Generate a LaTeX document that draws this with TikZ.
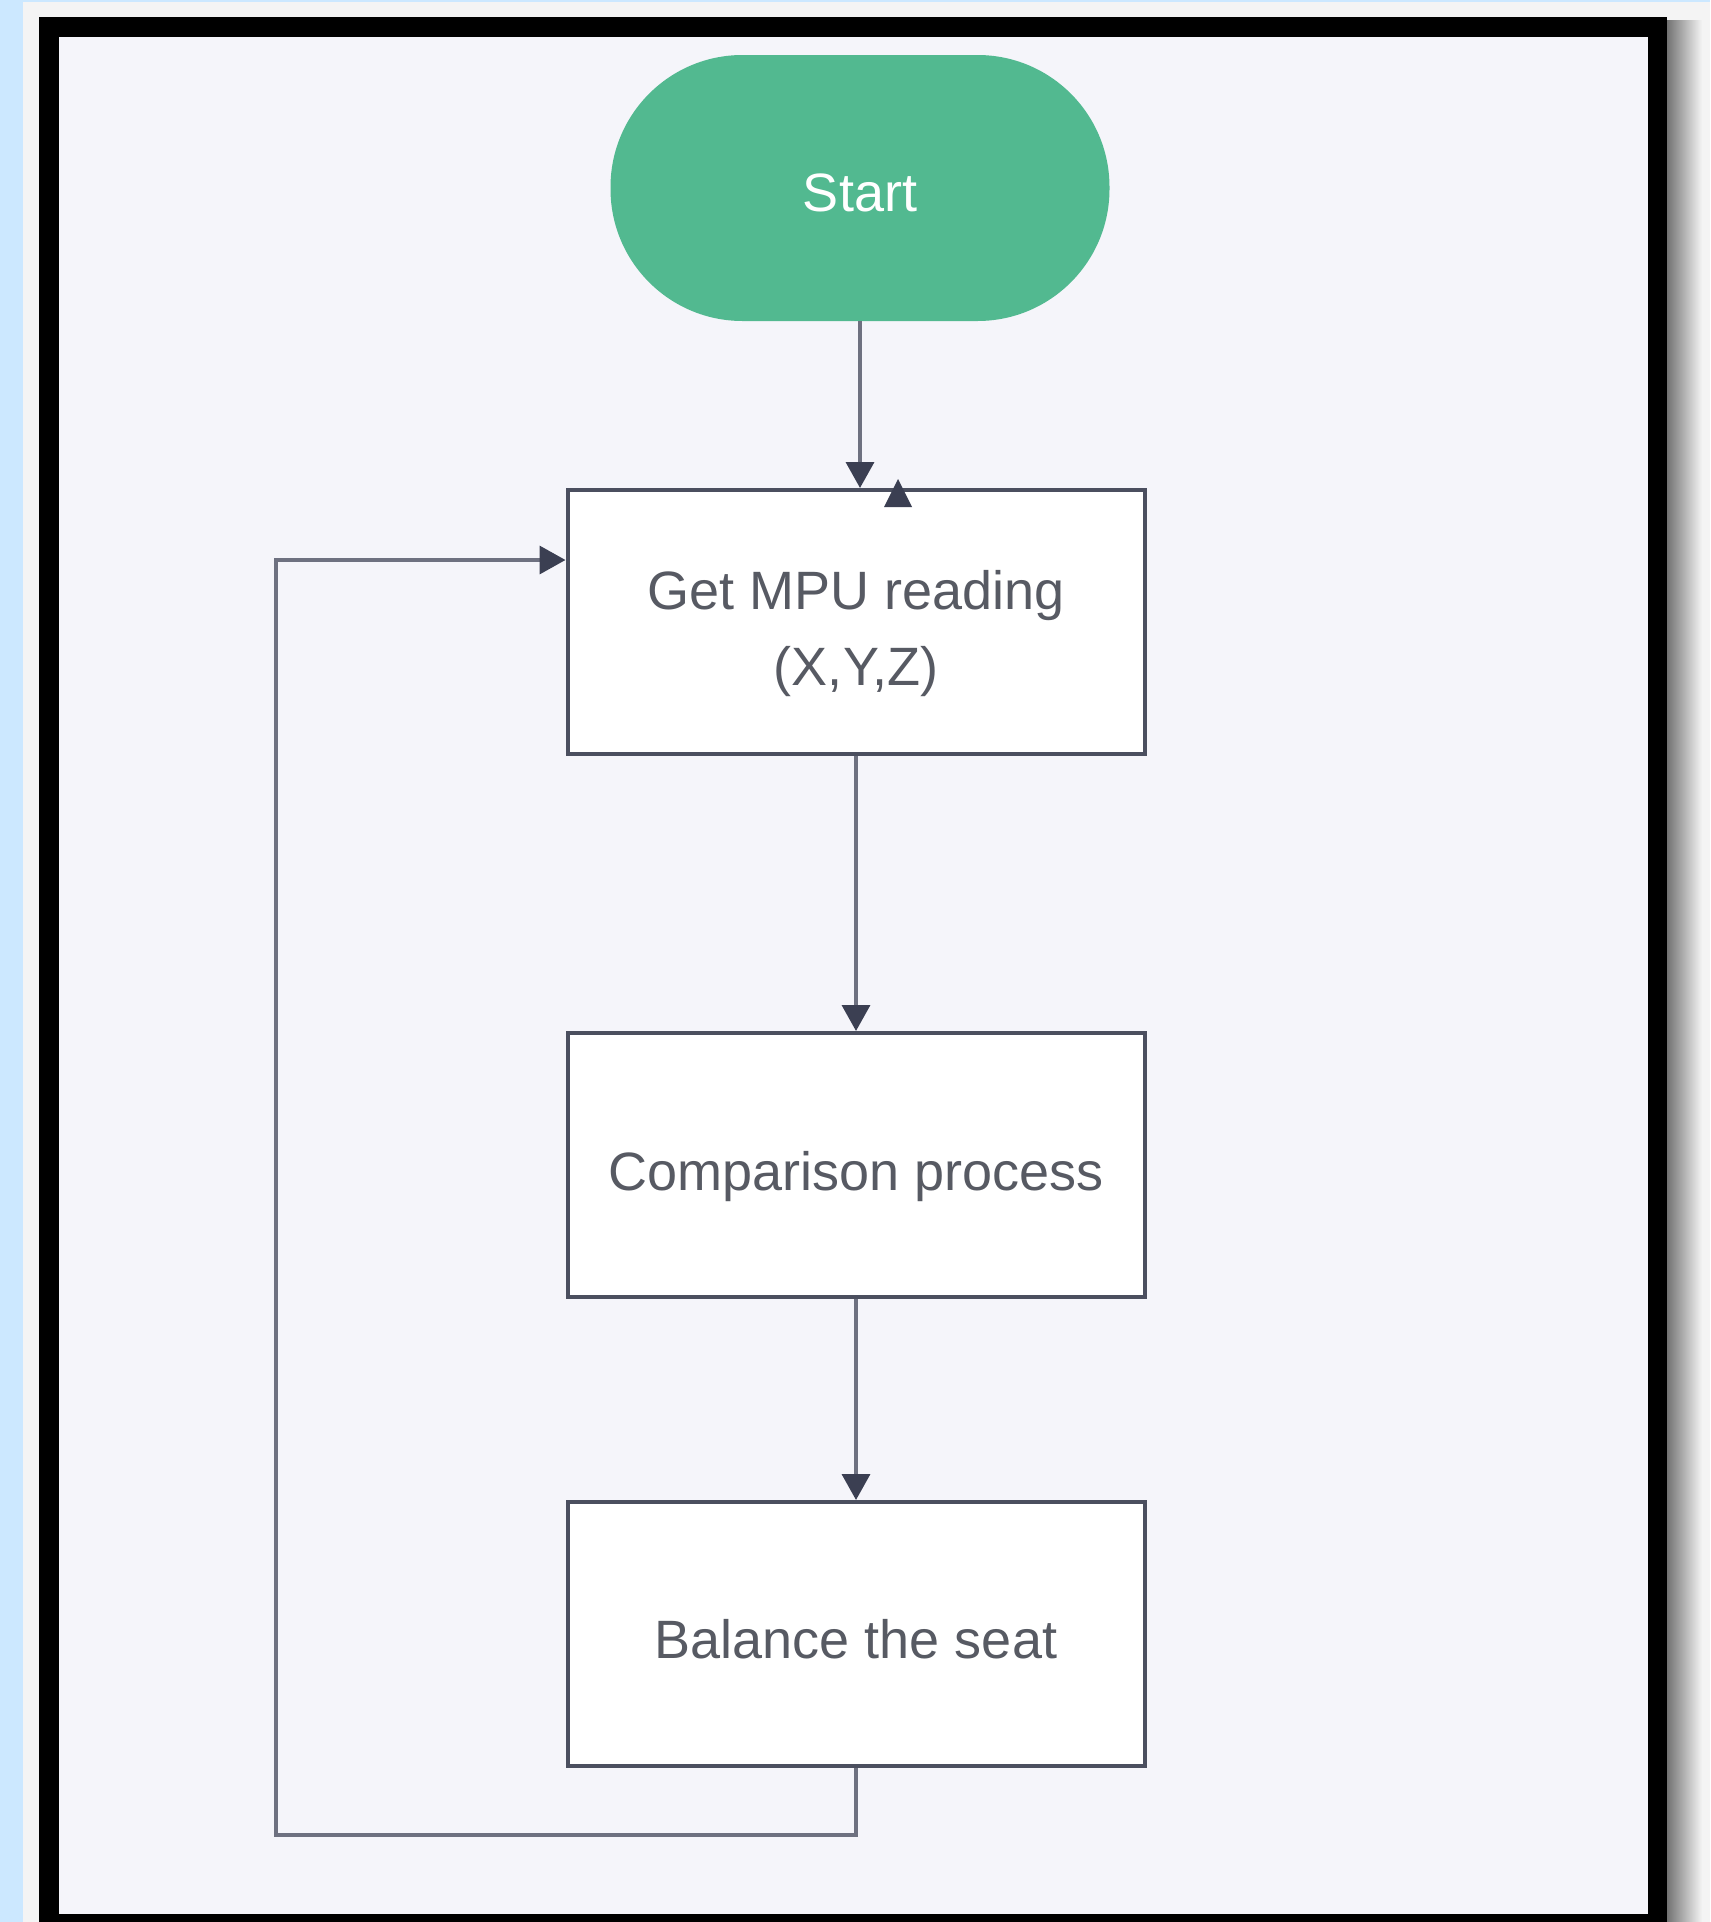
\documentclass[tikz,border=0pt]{standalone}
\usepackage{fontspec}
\setmainfont{Liberation Sans}
\usetikzlibrary{arrows.meta,calc}
\definecolor{bluebg}{HTML}{CCE8FF}
\definecolor{paper}{HTML}{F4F4F4}
\definecolor{innerbg}{HTML}{F5F5FA}
\definecolor{boxline}{HTML}{4B4F5F}
\definecolor{connline}{HTML}{6E7180}
\definecolor{tipcol}{HTML}{3B3F52}
\definecolor{startgreen}{HTML}{52B990}
\definecolor{txt}{HTML}{575A63}
\tikzset{
  procbox/.style={draw=boxline, line width=2pt, fill=white, minimum width=288.5pt, minimum height=132pt,
    align=center, text=txt, font=\fontsize{27}{38}\selectfont, inner sep=0pt},
  startnode/.style={fill=startgreen, minimum width=249.5pt, minimum height=133pt, rounded corners=66pt,
    text=white, font=\fontsize{27}{32}\selectfont, inner sep=0pt},
  conn/.style={draw=connline, line width=1.8pt, -{Triangle[width=14pt,length=13pt,color=tipcol]}}
}
\newcommand{\lowtext}{\rule{0pt}{31pt}}
\begin{document}
\begin{tikzpicture}[x=0.5pt,y=-0.5pt]
\useasboundingbox (0,0) rectangle (1710,1922);
% background and frame
\fill[bluebg] (0,0) rectangle (1710,1922);
\fill[paper] (23,2) rectangle (1710,1922);
\shade[left color=black!55, right color=paper] (1667,20) rectangle (1702,1922);
\fill[black] (39,17) rectangle (1667,1922);
\fill[innerbg] (59,37) rectangle (1648,1914);
% nodes
\node[startnode] (start) at (860,188) {\rule{0pt}{24pt}Start};
\node[procbox] (b1) at (856,622) {\lowtext Get MPU reading\\(X,Y,Z)};
\node[procbox] (b2) at (856,1165) {\lowtext Comparison process};
\node[procbox] (b3) at (856,1634) {\rule{0pt}{25pt}Balance the seat};
% connectors
\draw[conn] (start.south) -- (start.south |- b1.north);
\draw[conn] (b1.south) -- (b2.north);
\draw[conn] (b2.south) -- (b3.north);
\coordinate (lb) at (276,1835);
\coordinate (lt) at (276,560);
\draw[conn] (b3.south) |- (lb) -- (lt) -- (lt -| b1.west);
% stray up-pointing arrowhead on top of box 1
\coordinate (sa) at ($(b1.north)+(42,0)$);
\fill[tipcol] ($(sa)+(0,-9)$) -- ($(sa)+(-14,19)$) -- ($(sa)+(14,19)$) -- cycle;
\end{tikzpicture}
\end{document}
